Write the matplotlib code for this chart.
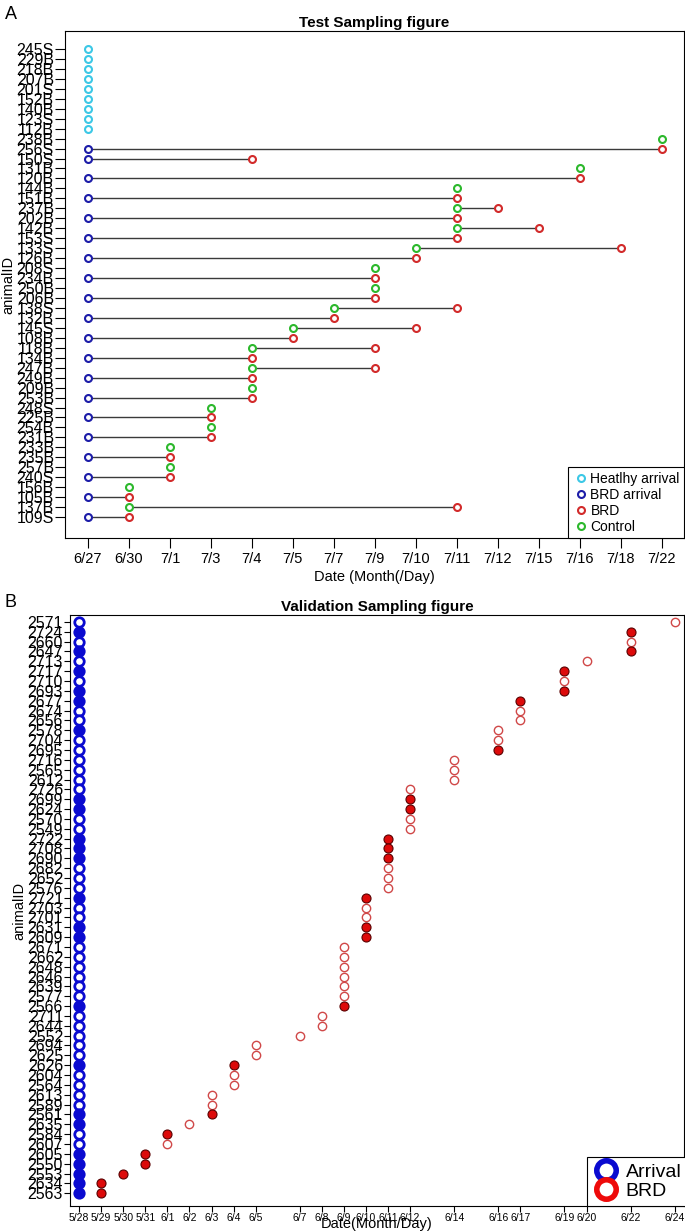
import pandas as pd
import matplotlib
matplotlib.use('Agg')
import matplotlib.pyplot as plt
from matplotlib.lines import Line2D

plt.rcParams['font.family'] = ['Liberation Sans', 'DejaVu Sans']

# ---- panel A data (categorical dates) ----
a_dates = ['6/27', '6/30', '7/1', '7/3', '7/4', '7/5', '7/7', '7/9', '7/10',
           '7/11', '7/12', '7/15', '7/16', '7/18', '7/22']
a_ids = ['245S', '229B', '218B', '207B', '201S', '152B', '140B', '123S', '112B',
         '238B', '256S', '150S', '131B', '120B', '144B', '151B', '237B', '202B',
         '142B', '153S', '133S', '126B', '208S', '234B', '250B', '206B', '138S',
         '132B', '145S', '108B', '118B', '134B', '247B', '249B', '209B', '253B',
         '248S', '225B', '254B', '231B', '233B', '235B', '257B', '240S', '156B',
         '105B', '137B', '109S']
a_healthy = ['6/27'] * 9 + [None] * 39
a_arrival = [None] * 9 + [None, '6/27', '6/27', None, '6/27', None, '6/27', None,
                          '6/27', None, '6/27', None, '6/27', None, '6/27', None,
                          '6/27', None, '6/27', None, '6/27', None, '6/27', None,
                          '6/27', None, '6/27', None, '6/27', None, '6/27', None,
                          '6/27', None, '6/27', None, '6/27', None, '6/27']
a_control = [None] * 9 + ['7/22', None, None, '7/16', None, '7/11', None, '7/11',
                          None, '7/11', None, '7/10', None, '7/9', None, '7/9',
                          None, '7/7', None, '7/5', None, '7/4', None, '7/4',
                          None, '7/4', None, '7/3', None, '7/3', None, '7/1',
                          None, '7/1', None, '6/30', None, '6/30', None]
a_brd = [None] * 9 + [None, '7/22', '7/4', None, '7/16', None, '7/11', '7/12',
                      '7/11', '7/15', '7/11', '7/18', '7/10', None, '7/9', None,
                      '7/9', '7/11', '7/7', '7/10', '7/5', '7/9', '7/4', '7/9',
                      '7/4', None, '7/4', None, '7/3', None, '7/3', None, '7/1',
                      None, '7/1', None, '6/30', '7/11', '6/30']

# ---- panel B data (real dates) ----
b_ticks = ['5/28', '5/29', '5/30', '5/31', '6/1', '6/2', '6/3', '6/4', '6/5',
           '6/7', '6/8', '6/9', '6/10', '6/11', '6/12', '6/14', '6/16', '6/17',
           '6/19', '6/20', '6/22', '6/24']
b_ids = ['2571', '2724', '2660', '2647', '2713', '2717', '2710', '2693', '2677',
         '2674', '2656', '2578', '2704', '2695', '2716', '2565', '2612', '2726',
         '2699', '2624', '2570', '2549', '2722', '2708', '2690', '2682', '2652',
         '2576', '2721', '2703', '2701', '2631', '2609', '2671', '2662', '2648',
         '2646', '2639', '2577', '2566', '2711', '2644', '2552', '2694', '2625',
         '2626', '2604', '2564', '2613', '2589', '2561', '2635', '2584', '2607',
         '2605', '2550', '2553', '2634', '2563']
b_arrival_date = '5/28'
b_arrival_filled = [0, 1, 0, 1, 0, 1, 0, 1, 1, 0, 0, 1, 0, 0, 0, 0, 0, 0, 1, 1,
                    0, 0, 1, 1, 1, 0, 0, 0, 1, 0, 0, 1, 1, 0, 0, 0, 0, 0, 0, 1,
                    0, 0, 0, 0, 0, 1, 0, 0, 0, 0, 1, 1, 0, 0, 1, 1, 1, 1, 1]
b_brd_date = ['6/24', '6/22', '6/22', '6/22', '6/20', '6/19', '6/19', '6/19',
              '6/17', '6/17', '6/17', '6/16', '6/16', '6/16', '6/14', '6/14',
              '6/14', '6/12', '6/12', '6/12', '6/12', '6/12', '6/11', '6/11',
              '6/11', '6/11', '6/11', '6/11', '6/10', '6/10', '6/10', '6/10',
              '6/10', '6/9', '6/9', '6/9', '6/9', '6/9', '6/9', '6/9', '6/8',
              '6/8', '6/7', '6/5', '6/5', '6/4', '6/4', '6/4', '6/3', '6/3',
              '6/3', '6/2', '6/1', '6/1', '5/31', '5/31', '5/30', '5/29', '5/29']
b_brd_filled = [0, 1, 0, 1, 0, 1, 0, 1, 1, 0, 0, 0, 0, 1, 0, 0, 0, 0, 1, 1,
                0, 0, 1, 1, 1, 0, 0, 0, 1, 0, 0, 1, 1, 0, 0, 0, 0, 0, 0, 1,
                0, 0, 0, 0, 0, 1, 0, 0, 0, 0, 1, 0, 1, 0, 1, 1, 1, 1, 1]

C_HEALTHY = '#3cc8e6'
C_ARR = '#1c1ca8'
C_BRD = '#d22a2a'
C_CTRL = '#2cb82c'


def to_day(s):
    return pd.to_datetime('2019/' + s, format='%Y/%m/%d')


fig = plt.figure(figsize=(6.85, 12.32), dpi=100)

# ================= panel A =================
ax = fig.add_axes([0.0949, 0.5633, 0.9036, 0.4115])
pos = {d: i for i, d in enumerate(a_dates)}
for i in range(len(a_ids)):
    start = a_arrival[i] or a_control[i]
    if start and a_brd[i]:
        ax.plot([pos[start], pos[a_brd[i]]], [i, i], color='#3a3a3a', lw=1.0, zorder=1)

mk = dict(marker='o', ms=5, mew=1.5, mfc='white', ls='none', zorder=3)
for col, vals in [(C_HEALTHY, a_healthy), (C_ARR, a_arrival),
                  (C_BRD, a_brd), (C_CTRL, a_control)]:
    xs = [pos[v] for v in vals if v]
    ys = [i for i, v in enumerate(vals) if v]
    ax.plot(xs, ys, mec=col, **mk)

ax.set_xlim(-0.56, 14.54)
ax.set_ylim(len(a_ids) - 1 + 2.1, -1.8)
ax.set_xticks(range(len(a_dates)))
ax.set_xticklabels(a_dates, fontsize=10.5)
ax.set_yticks(range(len(a_ids)))
ax.set_yticklabels(a_ids, fontsize=11.5)
ax.tick_params(axis='y', length=7, pad=1)
ax.tick_params(axis='x', length=7, pad=3)
ax.set_title('Test Sampling figure', fontsize=11, fontweight='bold', pad=3)
ax.set_xlabel('Date (Month(/Day)', fontsize=10.5, labelpad=3)
ax.set_ylabel('animalID', fontsize=10.5, labelpad=1)
for s in ax.spines.values():
    s.set_linewidth(0.8)
handles = [Line2D([], [], marker='o', ms=5, mew=1.5, mfc='white', mec=c, ls='none')
           for c in (C_HEALTHY, C_ARR, C_BRD, C_CTRL)]
leg = ax.legend(handles, ['Heatlhy arrival', 'BRD arrival', 'BRD', 'Control'],
                loc='lower right', borderaxespad=0, fontsize=10, fancybox=False,
                handletextpad=0.1, handlelength=1.2, labelspacing=0.15,
                borderpad=0.3, framealpha=1)
leg.get_frame().set_edgecolor('black')
leg.get_frame().set_linewidth(0.8)

# ================= panel B =================
bx = fig.add_axes([0.1022, 0.0211, 0.8963, 0.4797])
yb = list(range(len(b_ids)))
arr_x = [to_day(b_arrival_date)] * len(b_ids)
brd_x = [to_day(d) for d in b_brd_date]

for i in yb:
    face = '#0a0ad0' if b_arrival_filled[i] else 'white'
    bx.plot(arr_x[i], i, marker='o', ms=6.8, mew=2.0, mec='#0a0ad0', mfc=face,
            ls='none', zorder=3)
    if b_brd_filled[i]:
        bx.plot(brd_x[i], i, marker='o', ms=6.5, mew=0.8, mec='#5a0000',
                mfc='#dd0a0a', ls='none', zorder=3)
    else:
        bx.plot(brd_x[i], i, marker='o', ms=6.0, mew=1.0, mec='#d04848',
                mfc='white', ls='none', zorder=3)

d0 = to_day('5/28')
bx.set_xlim(d0 - pd.Timedelta(hours=10), d0 + pd.Timedelta(hours=int(27.45 * 24)))
bx.set_ylim(len(b_ids) - 1 + 1.3, -0.7)
bx.set_xticks([to_day(t) for t in b_ticks])
bx.set_xticklabels(b_ticks, fontsize=7.5)
bx.set_yticks(yb)
bx.set_yticklabels(b_ids, fontsize=11.5)
bx.tick_params(axis='y', length=4, pad=1)
bx.tick_params(axis='x', length=4, pad=1)
bx.set_title('Validation Sampling figure', fontsize=11, fontweight='bold', pad=3)
bx.set_xlabel('Date(Month/Day)', fontsize=10.5, labelpad=-4)
bx.set_ylabel('animalID', fontsize=10.5, labelpad=1)
for s in bx.spines.values():
    s.set_linewidth(0.8)
handles_b = [Line2D([], [], marker='o', ms=14, mew=4, mfc='white', mec=c, ls='none')
             for c in ('#0a0ad0', '#ee0a0a')]
leg_b = bx.legend(handles_b, ['Arrival', 'BRD'], loc='lower left',
                  bbox_to_anchor=(0.842, 0.0), borderaxespad=0, fontsize=14,
                  fancybox=False, handletextpad=0.3, handlelength=1.4,
                  labelspacing=0.1, borderpad=0.3, framealpha=1)
leg_b.get_frame().set_edgecolor('black')
leg_b.get_frame().set_linewidth(0.8)

fig.text(0.007, 0.988, 'A', fontsize=13, va='center')
fig.text(0.007, 0.511, 'B', fontsize=13, va='center')

fig.savefig('out.png', dpi=100)
